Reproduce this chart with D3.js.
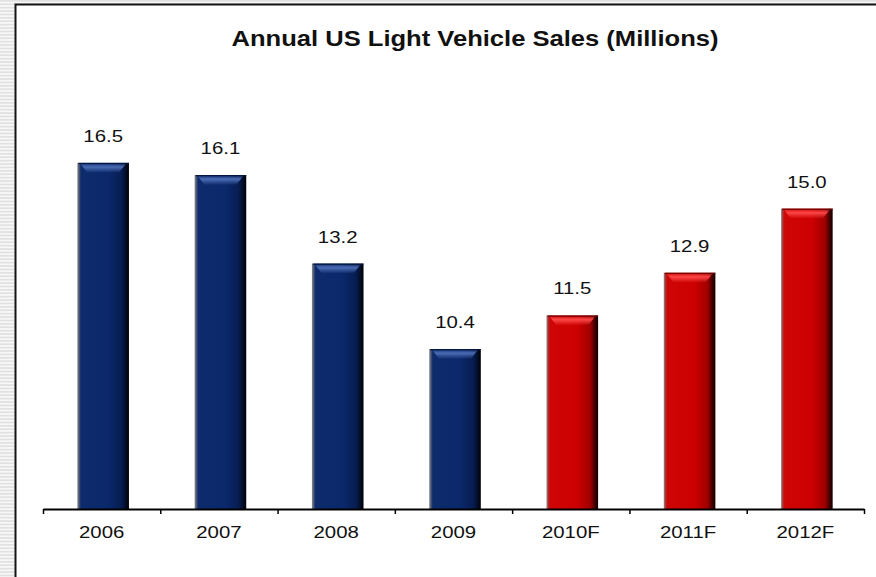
<!DOCTYPE html>
<html>
<head>
<meta charset="utf-8">
<script src="https://cdn.jsdelivr.net/npm/d3@7"></script>
<style>
  html, body { margin: 0; padding: 0; background: #fff; }
  svg { display: block; font-family: "Liberation Sans", Arial, sans-serif; }
</style>
</head>
<body>
<svg id="chart" width="876" height="577"></svg>
<script>
// Annual US light vehicle sales, millions of units (F = forecast)
const years = ["2006", "2007", "2008", "2009", "2010F", "2011F", "2012F"];
const sales = [16.5, 16.1, 13.2, 10.4, 11.5, 12.9, 15.0];
const isForecast = [false, false, false, false, true, true, true];
const chartTitle = "Annual US Light Vehicle Sales (Millions)";

const W = 876, H = 577;
const plot = { left: 43, right: 864, top: 56, bottom: 509 };
const stretch = 1.2; // wide text, as set in the slide

const svg = d3.select("#chart");
const defs = svg.append("defs");

// striped slide background
const pat = defs.append("pattern")
  .attr("id", "stripes").attr("patternUnits", "userSpaceOnUse")
  .attr("width", 8).attr("height", 3.4);
pat.append("rect").attr("width", 8).attr("height", 3.4).attr("fill", "#f7f7f7");
pat.append("rect").attr("width", 8).attr("height", 1.7).attr("fill", "#e1e1e1");
svg.append("rect").attr("width", W).attr("height", H).attr("fill", "url(#stripes)");

// white panel with dark frame (left and top edges visible)
svg.append("rect").attr("x", 15).attr("y", 4).attr("width", W).attr("height", H)
  .attr("fill", "#fff");
svg.append("path")
  .attr("d", `M15.5,${H} L15.5,4.5 L${W},4.5`)
  .attr("fill", "none").attr("stroke", "#141414").attr("stroke-width", 2);

// bar shading: horizontal body gradient + top bevel highlight
function bodyGradient(id, stops) {
  const g = defs.append("linearGradient").attr("id", id)
    .attr("x1", 0).attr("x2", 1).attr("y1", 0).attr("y2", 0);
  stops.forEach(([o, c]) => g.append("stop").attr("offset", o).attr("stop-color", c));
}
bodyGradient("navyBody", [[0, "#8a8d94"], [0.035, "#4a5570"], [0.07, "#0e2b6c"],
  [0.6, "#0b286b"], [0.85, "#071d52"], [0.95, "#020b22"], [1, "#000"]]);
bodyGradient("redBody", [[0, "#9a8a8a"], [0.035, "#a83030"], [0.07, "#cf0606"],
  [0.6, "#cc0000"], [0.85, "#a00000"], [0.95, "#3a0000"], [1, "#100000"]]);

function bevelGradient(id, c) {
  const g = defs.append("linearGradient").attr("id", id)
    .attr("x1", 0).attr("x2", 0).attr("y1", 0).attr("y2", 1);
  g.append("stop").attr("offset", 0).attr("stop-color", c).attr("stop-opacity", 0.25);
  g.append("stop").attr("offset", 0.35).attr("stop-color", c).attr("stop-opacity", 0.95);
  g.append("stop").attr("offset", 1).attr("stop-color", c).attr("stop-opacity", 0);
}
bevelGradient("navyBevel", "#4e6fb8");
bevelGradient("redBevel", "#ff4a4a");

// scales
const x = d3.scaleBand().domain(years).range([plot.left, plot.right]).padding(0);
const edges = d3.scaleLinear().domain([0, years.length]).range([plot.left, plot.right]);
const y = d3.scaleLinear().domain([5.16, 20]).range([plot.bottom, plot.top]);

const barW = x.bandwidth() * 0.44;
const data = years.map((yr, i) => ({ yr, v: sales[i], f: isForecast[i] }));

const bars = svg.append("g").selectAll("g").data(data).join("g")
  .attr("transform", d => `translate(${x(d.yr) + x.bandwidth() / 2 + 1.5 - barW / 2},0)`);

bars.append("rect")
  .attr("x", 0).attr("width", barW)
  .attr("y", d => y(d.v)).attr("height", d => y.range()[0] - y(d.v))
  .attr("fill", d => d.f ? "url(#redBody)" : "url(#navyBody)");

// top bevel
bars.append("path")
  .attr("d", d => {
    const t = y(d.v);
    return `M3,${t + 1} L${barW - 3},${t + 1} L${barW - 10},${t + 10} L10,${t + 10} Z`;
  })
  .attr("fill", d => d.f ? "url(#redBevel)" : "url(#navyBevel)");
// thin dark rim on top edge
bars.append("rect")
  .attr("x", 1).attr("width", barW - 1)
  .attr("y", d => y(d.v)).attr("height", 1.2)
  .attr("fill", d => d.f ? "#700000" : "#051740");

// value labels
svg.append("g").selectAll("text").data(data).join("text")
  .attr("transform", d => `translate(${x(d.yr) + x.bandwidth() / 2 + 1.5},${y(d.v) - 21}) scale(${stretch},1)`)
  .attr("text-anchor", "middle")
  .attr("font-size", 17).attr("fill", "#111")
  .text(d => d3.format(".1f")(d.v));

// x axis: boundary ticks
const axisG = svg.append("g").attr("transform", `translate(0,${plot.bottom})`)
  .call(d3.axisBottom(edges).ticks(years.length).tickValues(d3.range(years.length + 1))
    .tickSize(5).tickSizeOuter(0).tickFormat(""));
axisG.select(".domain").attr("stroke", "#000").attr("stroke-width", 2);
axisG.selectAll(".tick line").attr("stroke", "#000").attr("stroke-width", 1.5);

// x axis: category labels
const labelG = svg.append("g").attr("transform", `translate(0,${plot.bottom})`)
  .call(d3.axisBottom(x).tickSize(0).tickPadding(17));
labelG.select(".domain").remove();
labelG.selectAll("text")
  .attr("font-size", 17).attr("fill", "#111")
  .attr("font-family", "'Liberation Sans', Arial, sans-serif")
  .attr("transform", `scale(${stretch},1)`);

// title
svg.append("text")
  .attr("transform", `translate(475,46) scale(${stretch},1)`)
  .attr("text-anchor", "middle")
  .attr("font-size", 21.3).attr("font-weight", "bold").attr("fill", "#111")
  .text(chartTitle);
</script>
</body>
</html>
